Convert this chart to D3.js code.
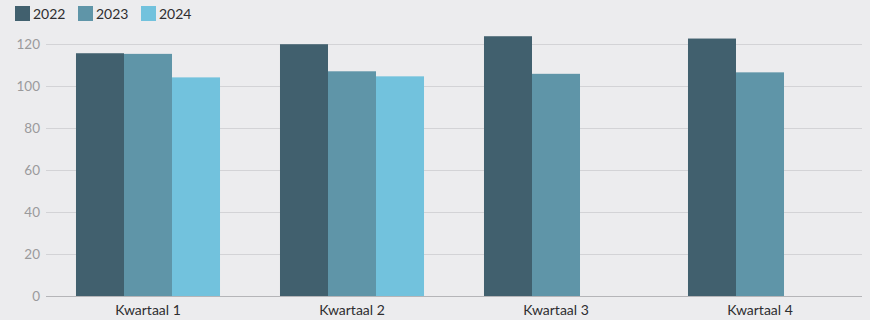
<!DOCTYPE html>
<meta charset="utf-8">
<script src="https://d3js.org/d3.v7.min.js"></script>
<style>
  body { margin: 0; background: #ececee; }
  text { font-family: Lato, "Open Sans", sans-serif; }
</style>
<div id="chart"></div>
<script>
// data
var quarters = ["Kwartaal 1", "Kwartaal 2", "Kwartaal 3", "Kwartaal 4"];
var years = ["2022", "2023", "2024"];
var values2022 = [115.6, 119.9, 123.7, 122.6];
var values2023 = [115.3, 107.0, 105.8, 106.5];
var values2024 = [104.1, 104.6, null, null];
var yTicks = [0, 20, 40, 60, 80, 100, 120];
var colors = ["#41606e", "#5f95a8", "#72c2dd"];

var series = [values2022, values2023, values2024];

var W = 870, H = 320;
var margin = {top: 44, right: 8, bottom: 24, left: 46};
var width = W - margin.left - margin.right,
    height = 296 - margin.top;

var svg = d3.select("#chart").append("svg")
    .attr("width", W).attr("height", H);

svg.append("rect").attr("width", W).attr("height", H).attr("fill", "#ececee");

var g = svg.append("g")
    .attr("transform", "translate(" + margin.left + "," + margin.top + ")");

var x0 = d3.scaleBand().domain(quarters).range([0, width])
    .paddingInner(0.294).paddingOuter(0.147);
var x1 = d3.scaleBand().domain(years).range([0, x0.bandwidth()]);
var y = d3.scaleLinear().domain([0, 120]).range([height, 0]);

// grid lines + y labels
g.append("g").selectAll("line").data(yTicks).enter().append("line")
    .attr("x1", 0).attr("x2", width)
    .attr("y1", function(d) { return y(d) + 0.5; })
    .attr("y2", function(d) { return y(d) + 0.5; })
    .attr("stroke", function(d) { return d === 0 ? "#b5b5b8" : "#d3d3d6"; })
    .attr("stroke-width", 1);

g.append("g").selectAll("text").data(yTicks).enter().append("text")
    .attr("x", -6)
    .attr("y", function(d) { return y(d); })
    .attr("dy", "0.35em")
    .attr("text-anchor", "end")
    .attr("font-size", 13.5)
    .attr("fill", "#9a9a9c")
    .text(function(d) { return d; });

// bars
var groups = g.append("g").selectAll("g").data(quarters).enter().append("g")
    .attr("transform", function(d) { return "translate(" + x0(d) + ",0)"; });

groups.selectAll("rect")
    .data(function(q, qi) {
      return years.map(function(yr, yi) { return {year: yr, i: yi, v: series[yi][qi]}; })
        .filter(function(d) { return d.v != null; });
    })
    .enter().append("rect")
    .attr("x", function(d) { return x1(d.year); })
    .attr("width", x1.bandwidth())
    .attr("y", function(d) { return y(d.v); })
    .attr("height", function(d) { return height - y(d.v); })
    .attr("fill", function(d) { return colors[d.i]; });

// x labels
g.append("g").selectAll("text").data(quarters).enter().append("text")
    .attr("x", function(d) { return x0(d) + x0.bandwidth() / 2; })
    .attr("y", height + 19)
    .attr("text-anchor", "middle")
    .attr("font-size", 14)
    .attr("fill", "#2e2e30")
    .text(function(d) { return d; });

// legend
var legend = svg.append("g").selectAll("g").data(years).enter().append("g")
    .attr("transform", function(d, i) { return "translate(" + (15 + i * 63) + ",6)"; });
legend.append("rect")
    .attr("width", 15).attr("height", 15)
    .attr("fill", function(d, i) { return colors[i]; });
legend.append("text")
    .attr("x", 18).attr("y", 7.5).attr("dy", "0.36em")
    .attr("font-size", 14)
    .attr("fill", "#2e2e30")
    .text(function(d) { return d; });
</script>
